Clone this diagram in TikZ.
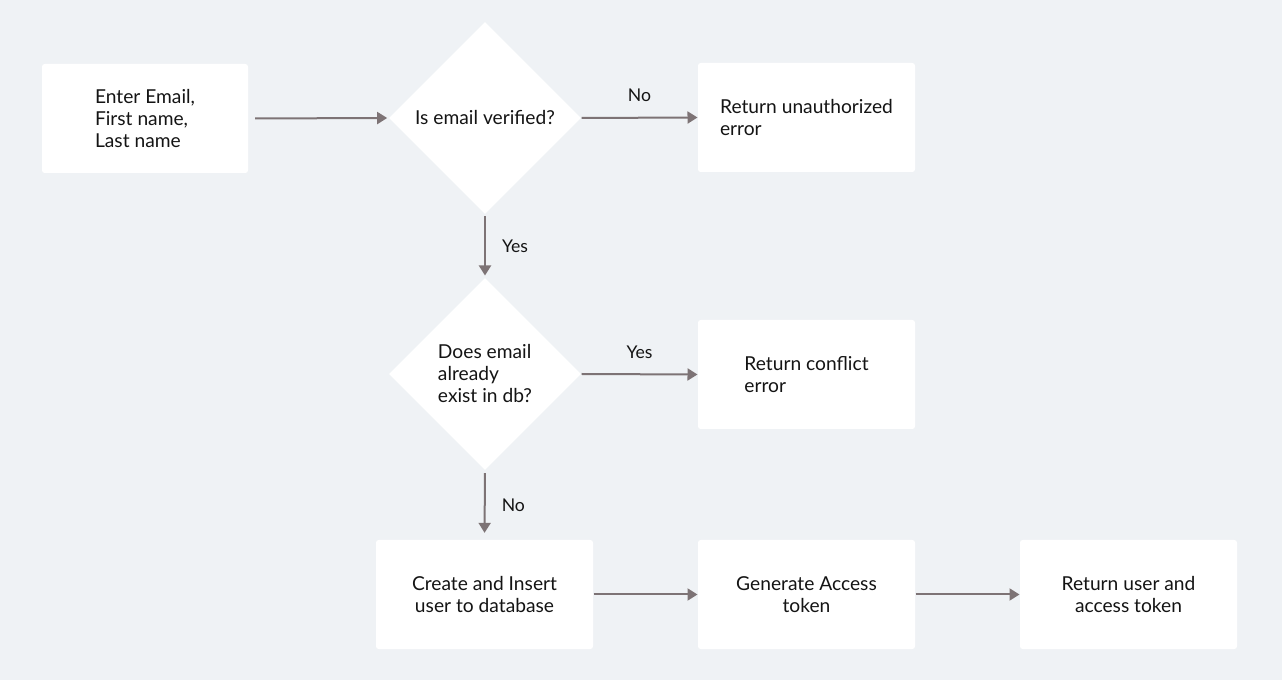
\documentclass[tikz,border=0pt]{standalone}
\usepackage{fontspec}
\setmainfont{Lato}
\usetikzlibrary{shapes.geometric,arrows.meta,positioning}

\definecolor{pagebg}{RGB}{239,242,245}
\definecolor{flowline}{RGB}{125,115,117}
\definecolor{labeltext}{RGB}{20,20,20}

\tikzset{every picture/.style={line width=0.75pt}}
\tikzset{
  procbox/.style={fill=white, rounded corners=2pt, inner sep=0pt, minimum width=162.75pt, minimum height=81.75pt, align=left, font=\fontsize{14.4}{16.5}\selectfont, text=labeltext},
  decision/.style={diamond, fill=white, inner sep=0pt, minimum width=144pt, minimum height=144pt, align=left, font=\fontsize{14.4}{16.5}\selectfont, text=labeltext},
  flow/.style={draw=flowline, line width=1.5pt, -{Triangle[length=7.5pt,width=9pt]}},
  branch/.style={font=\fontsize{13.2}{15}\selectfont, text=labeltext, inner sep=0pt}
}

\begin{document}
\begin{tikzpicture}[x=0.75pt,y=0.75pt,yscale=-1,xscale=1]
%set diagram size: 1282 x 680
\path[fill=pagebg] (0,0) rectangle (1282,680);

%Shape: Rectangle [id:enter]
\node [procbox, minimum width=154.5pt] (enter) at (145,118.5) {Enter Email,\\First name,\\Last name};
%Shape: Diamond [id:verified]
\node [decision] (verified) at (485,118) {Is email verified?};
%Shape: Rectangle [id:unauth]
\node [procbox] (unauth) at (806.5,117.5) {Return unauthorized\\error};
%Shape: Diamond [id:exists]
\node [decision] (exists) at (485,374) {Does email\\already\\exist in db?};
%Shape: Rectangle [id:conflict]
\node [procbox] (conflict) at (806.5,374.5) {Return conflict\\error};
%Shape: Rectangle [id:create]
\node [procbox, align=center] (create) at (484.5,594.5) {Create and Insert\\user to database};
%Shape: Rectangle [id:token]
\node [procbox, align=center] (token) at (806.5,594.5) {Generate Access\\token};
%Shape: Rectangle [id:reply]
\node [procbox, align=center] (reply) at (1128.5,594.5) {Return user and\\access token};

%Straight Lines
\draw [flow, shorten <=5pt, shorten >=1pt] (enter.east) -- (verified.west);
\draw [flow] (verified.east) -- (unauth.west) node [branch, midway, above=11pt] {No};
\draw [flow, shorten <=1.5pt, shorten >=1.5pt] (verified.south) -- (exists.north) node [branch, midway, right=12pt] {Yes};
\draw [flow] (exists.east) -- (conflict.west) node [branch, midway, above=11pt] {Yes};
\draw [flow, shorten <=2pt, shorten >=5pt] (exists.south) -- (create.north) node [branch, midway, right=12pt] {No};
\draw [flow] (create.east) -- (token.west);
\draw [flow] (token.east) -- (reply.west);

\end{tikzpicture}
\end{document}
